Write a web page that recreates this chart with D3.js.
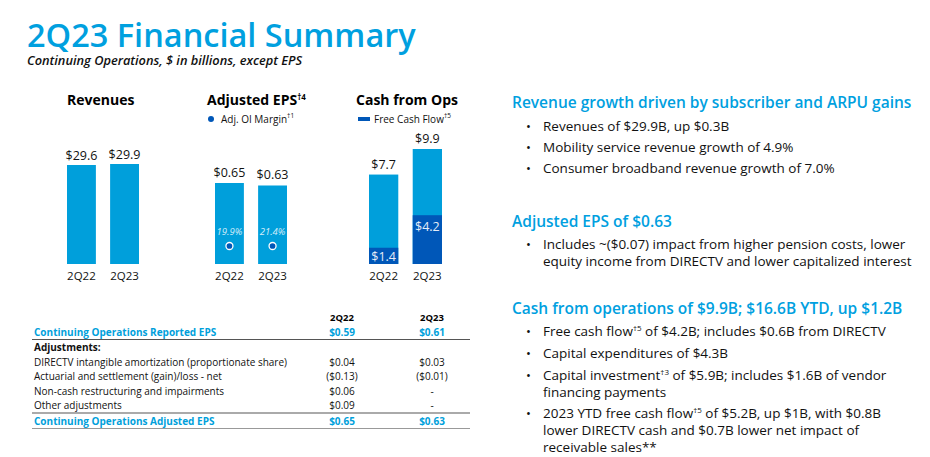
<!DOCTYPE html>
<html><head><meta charset="utf-8">
<script src="https://cdn.jsdelivr.net/npm/d3@7"></script>
<style>
html,body{margin:0;padding:0;background:#fff;}
svg{display:block;font-family:"Open Sans",sans-serif;}
</style></head>
<body>
<svg id="c" width="930" height="457"></svg>
<script>
// ---------- data ----------
const periods = ["2Q22", "2Q23"];
const revenues = [29.6, 29.9];
const adjEPS = [0.65, 0.63];
const oiMargin = [19.9, 21.4];
const cashFromOps = [7.7, 9.9];
const freeCashFlow = [1.4, 4.2];

const tableHeader = ["2Q22", "2Q23"];
const tableRows = [
  {label: "Continuing Operations Reported EPS", v: ["$0.59", "$0.61"], kind: "total"},
  {label: "Adjustments:", v: ["", ""], kind: "head"},
  {label: "DIRECTV intangible amortization (proportionate share)", v: ["$0.04", "$0.03"], kind: "row"},
  {label: "Actuarial and settlement (gain)/loss - net", v: ["($0.13)", "($0.01)"], kind: "row"},
  {label: "Non-cash restructuring and impairments", v: ["$0.06", "-"], kind: "row"},
  {label: "Other adjustments", v: ["$0.09", "-"], kind: "row"},
  {label: "Continuing Operations Adjusted EPS", v: ["$0.65", "$0.63"], kind: "total"}
];

const sections = [
  {head: "Revenue growth driven by subscriber and ARPU gains", bullets: [
    [["Revenues of $29.9B, up $0.3B"]],
    [["Mobility service revenue growth of 4.9%"]],
    [["Consumer broadband revenue growth of 7.0%"]]
  ]},
  {head: "Adjusted EPS of $0.63", bullets: [
    [["Includes ~($0.07) impact from higher pension costs, lower"], ["equity income from DIRECTV and lower capitalized interest"]]
  ]},
  {head: "Cash from operations of $9.9B; $16.6B YTD, up $1.2B", bullets: [
    [["Free cash flow", "†5", " of $4.2B; includes $0.6B from DIRECTV"]],
    [["Capital expenditures of $4.3B"]],
    [["Capital investment", "†3", " of $5.9B; includes $1.6B of vendor"], ["financing payments"]],
    [["2023 YTD free cash flow", "†5", " of $5.2B, up $1B, with $0.8B"], ["lower DIRECTV cash and $0.7B lower net impact of"], ["receivable sales**"]]
  ]}
];

// ---------- styles ----------
const BLUE = "#009FDB", DARK = "#0057B8", TITLE = "#00A0DF";
const svg = d3.select("#c");

// Title
svg.append("text").attr("x", 27).attr("y", 47).attr("font-size", 32.5).attr("fill", TITLE)
  .attr("font-weight", 600).text("2Q23 Financial Summary");
svg.append("text").attr("x", 27).attr("y", 65).attr("font-size", 12.8).attr("font-style", "italic")
  .attr("font-weight", 600).attr("fill", "#111").text("Continuing Operations, $ in billions, except EPS");

const baseY = 264;

function supText(sel, parts, supSize) {
  parts.forEach((p, i) => {
    if (i % 2 === 1) {
      sel.append("tspan").attr("font-size", supSize).attr("dy", -5).text(p);
    } else {
      const t = sel.append("tspan").text(p);
      if (i > 0) t.attr("dy", 5);
    }
  });
}

// chart titles
function chartTitle(x, parts) {
  const t = svg.append("text").attr("x", x).attr("y", 105).attr("font-size", 14).attr("font-weight", 700).attr("fill", "#000");
  supText(t, parts, 8);
}
chartTitle(67, ["Revenues"]);
chartTitle(207, ["Adjusted EPS", "†4"]);
chartTitle(356, ["Cash from Ops"]);

// legends
svg.append("circle").attr("cx", 211).attr("cy", 119).attr("r", 3).attr("fill", DARK);
const l1 = svg.append("text").attr("x", 221).attr("y", 122.5).attr("font-size", 10).attr("fill", "#111");
supText(l1, ["Adj. OI Margin", "†1"], 6.5);
svg.append("rect").attr("x", 358).attr("y", 117).attr("width", 12).attr("height", 4).attr("fill", DARK);
const l2 = svg.append("text").attr("x", 374).attr("y", 122.5).attr("font-size", 10).attr("fill", "#111");
supText(l2, ["Free Cash Flow", "†5"], 6.5);

function bandFor(r) {
  return d3.scaleBand().domain(periods).range(r).paddingInner(0.33).paddingOuter(0);
}
function catLabels(x) {
  svg.append("g").selectAll("text").data(periods).join("text")
    .attr("x", d => x(d) + x.bandwidth() / 2).attr("y", 280).attr("text-anchor", "middle")
    .attr("font-size", 11.5).attr("fill", "#111").text(d => d);
}

// Revenues
{
  const x = bandFor([67, 139]);
  const y = d3.scaleLinear().domain([0, 29.9]).range([baseY, 164]);
  svg.append("g").selectAll("rect").data(revenues).join("rect")
    .attr("x", (d, i) => x(periods[i])).attr("width", x.bandwidth())
    .attr("y", d => y(d)).attr("height", d => baseY - y(d)).attr("fill", BLUE);
  svg.append("g").selectAll("text").data(revenues).join("text")
    .attr("x", (d, i) => x(periods[i]) + x.bandwidth() / 2).attr("y", d => y(d) - 5)
    .attr("text-anchor", "middle").attr("font-size", 12.5).attr("fill", "#111").text(d => "$" + d.toFixed(1));
  catLabels(x);
}

// Adjusted EPS
{
  const x = bandFor([215, 287]);
  const y = d3.scaleLinear().domain([0, 0.65]).range([baseY, 183]);
  svg.append("g").selectAll("rect").data(adjEPS).join("rect")
    .attr("x", (d, i) => x(periods[i])).attr("width", x.bandwidth())
    .attr("y", d => y(d)).attr("height", d => baseY - y(d)).attr("fill", BLUE);
  svg.append("g").selectAll("text").data(adjEPS).join("text")
    .attr("x", (d, i) => x(periods[i]) + x.bandwidth() / 2).attr("y", d => y(d) - 6)
    .attr("text-anchor", "middle").attr("font-size", 12.5).attr("fill", "#111").text(d => "$" + d.toFixed(2));
  svg.append("g").selectAll("text").data(oiMargin).join("text")
    .attr("x", (d, i) => x(periods[i]) + x.bandwidth() / 2).attr("y", baseY - 29)
    .attr("text-anchor", "middle").attr("font-size", 9.5).attr("font-style", "italic")
    .attr("fill", "#d4eefa").text(d => d.toFixed(1) + "%");
  svg.append("g").selectAll("circle").data(oiMargin).join("circle")
    .attr("cx", (d, i) => x(periods[i]) + x.bandwidth() / 2).attr("cy", baseY - 18).attr("r", 3.5)
    .attr("fill", DARK).attr("stroke", "#fff").attr("stroke-width", 1.3);
  catLabels(x);
}

// Cash from Ops
{
  const x = bandFor([369, 442]);
  const y = d3.scaleLinear().domain([0, 9.9]).range([baseY, 149]);
  svg.append("g").selectAll("rect").data(cashFromOps).join("rect")
    .attr("x", (d, i) => x(periods[i])).attr("width", x.bandwidth())
    .attr("y", d => y(d)).attr("height", d => baseY - y(d)).attr("fill", BLUE);
  svg.append("g").selectAll("rect").data(freeCashFlow).join("rect")
    .attr("x", (d, i) => x(periods[i])).attr("width", x.bandwidth())
    .attr("y", d => y(d)).attr("height", d => baseY - y(d)).attr("fill", DARK);
  svg.append("g").selectAll("text").data(cashFromOps).join("text")
    .attr("x", (d, i) => x(periods[i]) + x.bandwidth() / 2).attr("y", d => y(d) - 6)
    .attr("text-anchor", "middle").attr("font-size", 12.5).attr("fill", "#111").text(d => "$" + d.toFixed(1));
  svg.append("g").selectAll("text").data(freeCashFlow).join("text")
    .attr("x", (d, i) => x(periods[i]) + x.bandwidth() / 2).attr("y", d => Math.min(y(d) + 16, baseY - 3))
    .attr("text-anchor", "middle").attr("font-size", 12.5).attr("fill", "#e6ecf7").text(d => "$" + d.toFixed(1));
  catLabels(x);
}

// ---------- table ----------
{
  const colX = [342, 432];
  const tg = svg.append("g");
  tg.selectAll("text.h").data(tableHeader).join("text").attr("class", "h")
    .attr("x", (d, i) => colX[i]).attr("y", 321).attr("text-anchor", "middle")
    .attr("font-size", 9.5).attr("font-weight", 700).attr("fill", "#000").text(d => d);
  const rowY = [335.5, 351, 365.5, 380, 394.5, 409, 424.5];
  tableRows.forEach((r, i) => {
    const col = r.kind === "total" ? BLUE : "#111";
    const w = r.kind === "row" ? 400 : 700;
    tg.append("text").attr("x", 34).attr("y", rowY[i]).attr("font-size", 10)
      .attr("font-weight", w).attr("fill", col).text(r.label);
    r.v.forEach((v, j) => {
      tg.append("text").attr("x", colX[j]).attr("y", rowY[i]).attr("text-anchor", "middle")
        .attr("font-size", 10).attr("font-weight", w).attr("fill", col).text(v);
    });
  });
  tg.append("line").attr("x1", 32).attr("x2", 470).attr("y1", 339.5).attr("y2", 339.5).attr("stroke", "#555").attr("stroke-width", 1.2);
  tg.append("line").attr("x1", 32).attr("x2", 470).attr("y1", 413).attr("y2", 413).attr("stroke", "#aaa").attr("stroke-width", 2);
  tg.append("line").attr("x1", 32).attr("x2", 470).attr("y1", 428.5).attr("y2", 428.5).attr("stroke", "#999").attr("stroke-width", 1.2);
}

// ---------- right text ----------
{
  const headY = [108, 227, 314];
  const bulletStarts = [[131, 152, 173], [249], [336, 358, 380, 418]];
  const lineH = 17;
  sections.forEach((s, si) => {
    svg.append("text").attr("x", 512).attr("y", headY[si]).attr("font-size", 15.5).attr("font-weight", 600)
      .attr("fill", TITLE).text(s.head);
    s.bullets.forEach((b, bi) => {
      const y0 = bulletStarts[si][bi];
      svg.append("text").attr("x", 526).attr("y", y0).attr("font-size", 13).attr("fill", "#111").text("•");
      b.forEach((line, li) => {
        const t = svg.append("text").attr("x", 543).attr("y", y0 + li * lineH).attr("font-size", 13.5).attr("fill", "#111");
        supText(t, line, 8);
      });
    });
  });
}
</script>
</body></html>
